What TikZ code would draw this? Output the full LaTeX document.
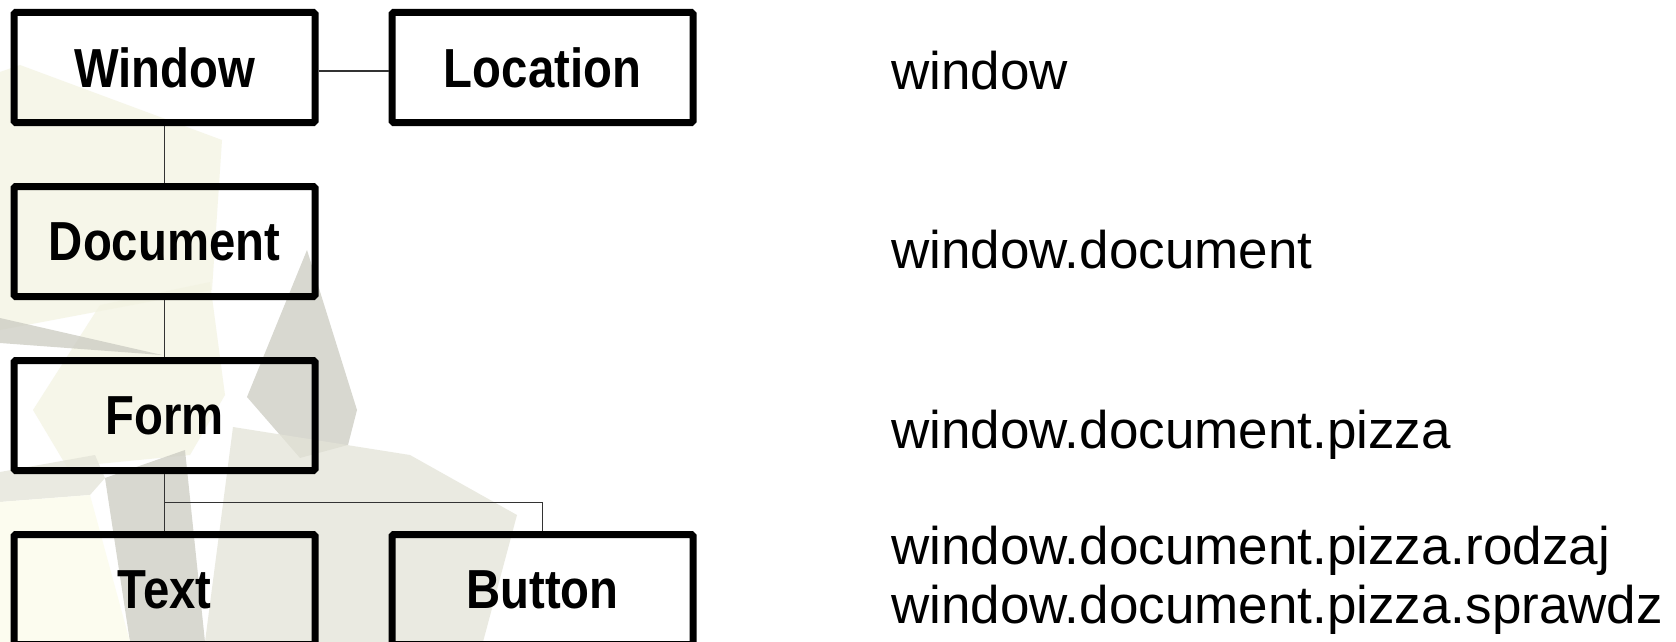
\documentclass[tikz,border=0pt]{standalone}
\usepackage{fontspec}
\setmainfont{Liberation Sans}
\newfontfamily\boxfont[FakeStretch=0.86]{Liberation Sans}

\definecolor{cream}{HTML}{F3F3E2}
\definecolor{paper}{HTML}{FCFCEF}
\definecolor{sand}{HTML}{E4E4D8}
\definecolor{stone}{HTML}{CBCBC1}

\begin{document}
\begin{tikzpicture}[x=1pt,y=-1pt,
  objbox/.style={draw,line width=7pt,rounded corners=1.5pt,minimum width=301pt,
    minimum height=110pt,inner sep=0pt,font=\boxfont\bfseries\fontsize{55}{60}\selectfont},
  link/.style={line width=1.2pt,black!80},
  dotname/.style={anchor=base west,inner sep=0pt,font=\fontsize{53}{60}\selectfont},
  shard/.style={fill opacity=0.75}]
\fill[white] (0,0) rectangle (1676,642);
\useasboundingbox (0,0) rectangle (1676,642);

% background shards
\fill[cream,shard] (0,72) -- (20,65) -- (222,140) -- (212,290) -- (0,330) -- cycle;
\fill[cream,shard] (33,410) -- (100,305) -- (210,282) -- (225,395) -- (190,455) -- (67,467) -- cycle;
\fill[stone,shard] (0,318) -- (162,355) -- (0,343) -- cycle;
\fill[stone,shard] (307,250) -- (357,410) -- (348,445) -- (300,458) -- (247,397) -- cycle;
\fill[sand,shard] (233,427) -- (410,455) -- (517,515) -- (483,642) -- (205,642) -- cycle;
\fill[stone,shard] (105,478) -- (185,450) -- (205,642) -- (130,642) -- cycle;
\fill[sand,shard] (0,472) -- (95,455) -- (105,478) -- (90,495) -- (0,502) -- cycle;
\fill[paper] (0,502) -- (90,495) -- (130,642) -- (0,642) -- cycle;

% object tree
\node[objbox] (win) at (164.5,67.5) {Window};
\node[objbox] (loc) at (542.5,67.5) {Location};
\node[objbox] (doc) at (164.5,241.5) {Document};
\node[objbox] (form) at (164.5,415.5) {Form};
\node[objbox] (txt) at (164.5,589.5) {Text};
\node[objbox] (btn) at (542.5,589.5) {Button};
\coordinate (fork) at (164.5,502.5);

\draw[link] ([yshift=-3.5pt]win.east) -- ([yshift=-3.5pt]loc.west);
\draw[link] (win.south) -- (doc.north);
\draw[link] (doc.south) -- (form.north);
\draw[link] (form.south) -- (txt.north);
\draw[link] (fork) -| (btn.north);

% access paths
\node[dotname] (pwin) at (891,89) {window};
\node[dotname] (pdoc) at (891,268) {window.document};
\node[dotname] (pform) at (891,448) {window.document.pizza};
\node[dotname] (ptxt) at (891,564) {window.document.pizza.rodzaj};
\node[dotname] (pbtn) at (891,623) {window.document.pizza.sprawdz};
\end{tikzpicture}
\end{document}
